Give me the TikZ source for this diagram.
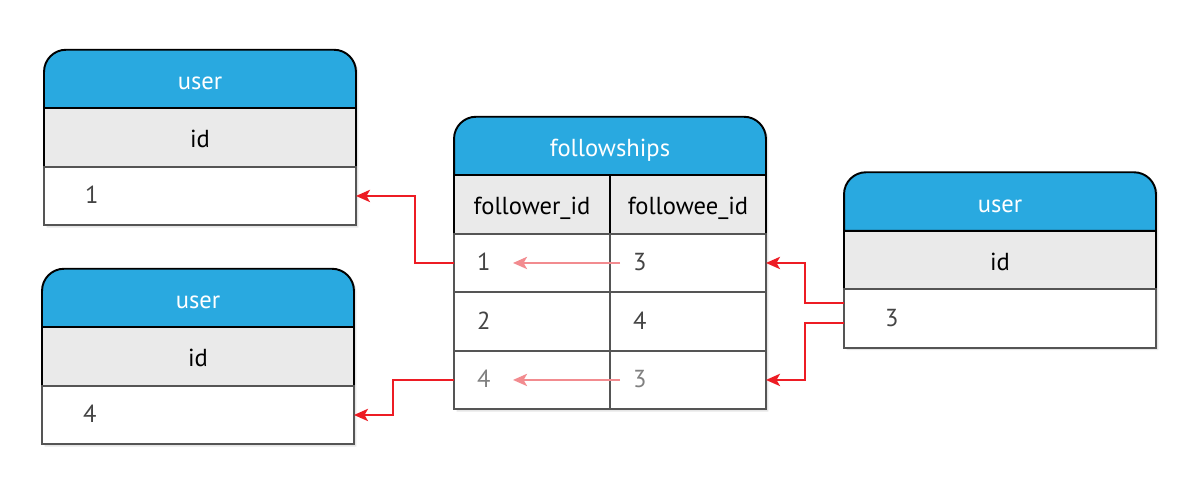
\documentclass[tikz,border=0pt]{standalone}
\usepackage{fontspec}
\setmainfont{PT Sans}
\usetikzlibrary{arrows.meta,positioning,backgrounds,shadows}
\definecolor{tblue}{RGB}{41,169,224}
\definecolor{tgray}{RGB}{234,234,234}
\definecolor{tline}{RGB}{85,85,85}
\definecolor{ttext}{RGB}{68,68,68}
\definecolor{tred}{RGB}{237,28,36}
\definecolor{tpink}{RGB}{242,139,143}
\tikzset
{
    headcell/.style = {minimum width=6.24cm, minimum height=1.17cm, outer sep=0pt, text=white, text height=2.4ex},
    keycell/.style  = {draw=black, fill=tgray, line width=1.1pt, minimum width=6.24cm, minimum height=1.17cm, outer sep=0pt, text height=2.3ex},
    valcell/.style  = {draw=tline, fill=white, line width=1.1pt, text=ttext, minimum height=1.17cm, outer sep=0pt, align=left, inner xsep=0.82cm, text width=4.6cm},
    colkey/.style   = {keycell, minimum width=3.12cm},
    colval/.style   = {valcell, inner xsep=0.46cm, text width=2.2cm},
    headshape/.style = {fill=tblue, draw=black, line width=1.1pt},
    tshadow/.style  = {fill=white, drop shadow={shadow xshift=0.05cm, shadow yshift=-0.05cm, opacity=0.2}},
    fk/.style       = {draw=tred, line width=1.2pt, -{Stealth[length=8pt,width=7pt,inset=2pt]}},
    samekey/.style  = {draw=tpink, line width=1pt, -{Stealth[length=8pt,width=7pt,inset=2pt]}}
}

\begin{document}
\begin{tikzpicture}[x=0.02cm, y=-0.02cm, font=\fontsize{14}{17}\selectfont, text height=1.8ex, text depth=0pt]
    \useasboundingbox (0,0) rectangle (1200,493);

    % user tables
    \node [headcell] (u1-head) at (200,79) {user};
    \node [keycell, below=0pt of u1-head] (u1-id) {id};
    \node [valcell, below=0pt of u1-id] (u1-val) {1};

    \node [headcell] (u4-head) at (198,298) {user};
    \node [keycell, below=0pt of u4-head] (u4-id) {id};
    \node [valcell, below=0pt of u4-id] (u4-val) {4};

    \node [headcell] (u3-head) at (1000,201.5) {user};
    \node [keycell, below=0pt of u3-head] (u3-id) {id};
    \node [valcell, below=0pt of u3-id] (u3-val) {3};

    % followships table
    \node [headcell] (fs-head) at (610,146) {followships};
    \node [colkey, below left=0pt and 0pt of fs-head.south] (fs-c1) {follower\_id};
    \node [colkey, right=0pt of fs-c1] (fs-c2) {followee\_id};
    \node [colval, below=0pt of fs-c1] (fs-r1a) {1};
    \node [colval, right=0pt of fs-r1a] (fs-r1b) {3};
    \node [colval, below=0pt of fs-r1a] (fs-r2a) {2};
    \node [colval, right=0pt of fs-r2a] (fs-r2b) {4};
    \node [colval, below=0pt of fs-r2a, text=gray] (fs-r3a) {4};
    \node [colval, right=0pt of fs-r3a, text=gray] (fs-r3b) {3};

    \begin{scope}[on background layer]
        \path [tshadow] (u1-val.south west) -- (u1-head.south west) [rounded corners=0.44cm] -- (u1-head.north west) -- (u1-head.north east) [sharp corners] -- (u1-val.south east) -- cycle;
        \path [headshape] (u1-head.south west) [rounded corners=0.44cm] -- (u1-head.north west) -- (u1-head.north east) [sharp corners] -- (u1-head.south east) -- cycle;
        \path [tshadow] (u4-val.south west) -- (u4-head.south west) [rounded corners=0.44cm] -- (u4-head.north west) -- (u4-head.north east) [sharp corners] -- (u4-val.south east) -- cycle;
        \path [headshape] (u4-head.south west) [rounded corners=0.44cm] -- (u4-head.north west) -- (u4-head.north east) [sharp corners] -- (u4-head.south east) -- cycle;
        \path [tshadow] (u3-val.south west) -- (u3-head.south west) [rounded corners=0.44cm] -- (u3-head.north west) -- (u3-head.north east) [sharp corners] -- (u3-val.south east) -- cycle;
        \path [headshape] (u3-head.south west) [rounded corners=0.44cm] -- (u3-head.north west) -- (u3-head.north east) [sharp corners] -- (u3-head.south east) -- cycle;
        \path [tshadow] (fs-r3a.south west) -- (fs-head.south west) [rounded corners=0.44cm] -- (fs-head.north west) -- (fs-head.north east) [sharp corners] -- (fs-r3b.south east) -- cycle;
        \path [headshape] (fs-head.south west) [rounded corners=0.44cm] -- (fs-head.north west) -- (fs-head.north east) [sharp corners] -- (fs-head.south east) -- cycle;
    \end{scope}

    % foreign keys
    \draw [fk] (fs-r1a.west) -- ++(-39,0) |- (u1-val.east);
    \draw [fk] (fs-r3a.west) -- ++(-61,0) |- (u4-val.east);
    \draw [fk] ([yshift=0.31cm]u3-val.west) -- ++(-39,0) |- (fs-r1b.east);
    \draw [fk] ([yshift=-0.09cm]u3-val.west) -- ++(-39,0) |- (fs-r3b.east);

    \draw [samekey] ([xshift=0.2cm]fs-r1b.west) -- ([xshift=1.18cm]fs-r1a.west);
    \draw [samekey] ([xshift=0.2cm]fs-r3b.west) -- ([xshift=1.18cm]fs-r3a.west);
\end{tikzpicture}
\end{document}
